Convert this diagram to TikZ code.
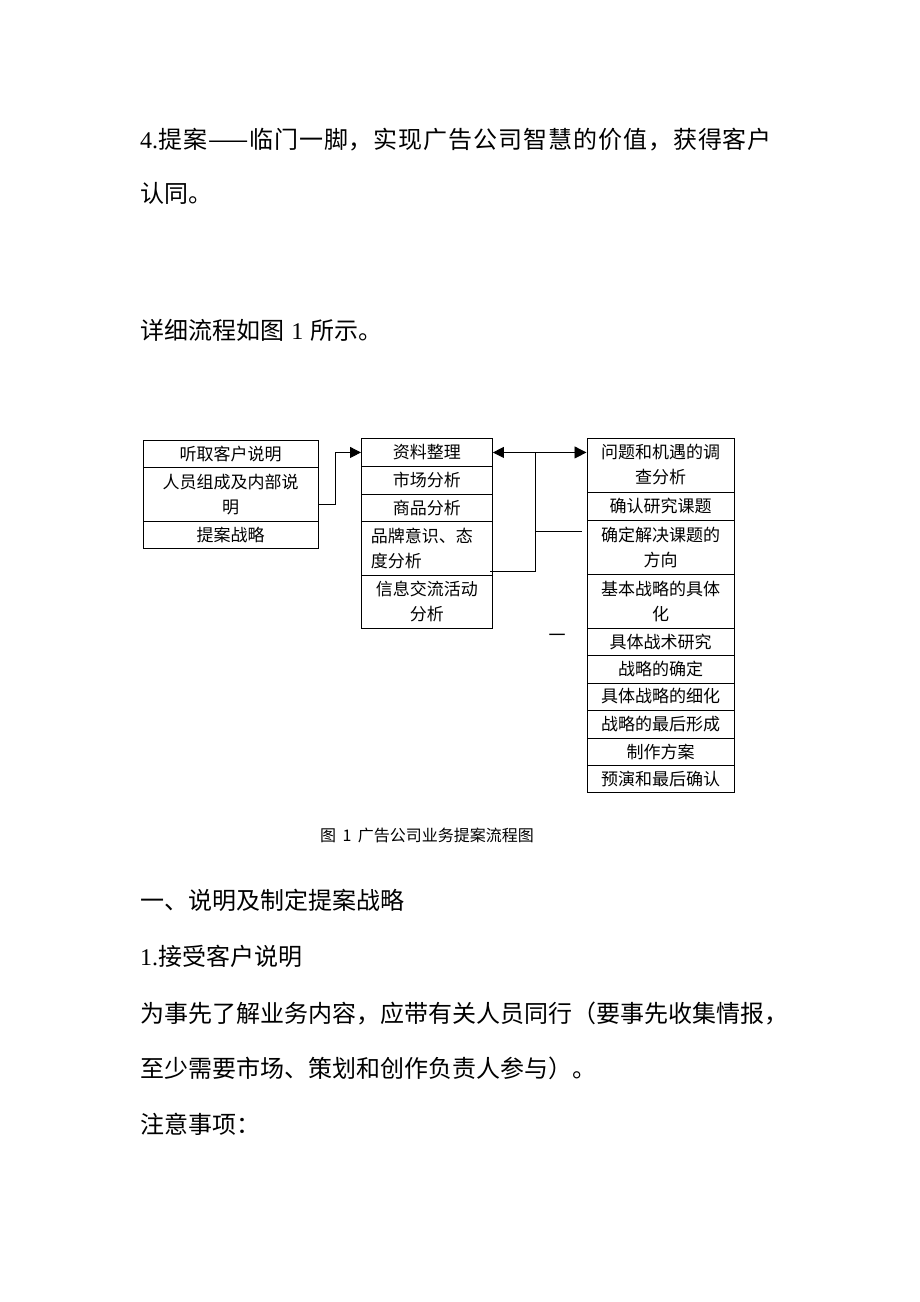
\documentclass[tikz,border=0pt]{standalone}
\usepackage{fontspec}
\setmainfont{Liberation Serif}
\newfontfamily\cjk{Noto Sans CJK SC}
\usetikzlibrary{arrows.meta}
\begin{document}
\begin{tikzpicture}[x=1pt,y=-1pt,
  cell/.style={draw,line width=0.9pt,anchor=north west,inner sep=0pt,
    font=\cjk\fontsize{17}{25}\selectfont,align=center},
  body/.style={anchor=west,inner sep=0pt,font=\cjk\fontsize{24}{24}\selectfont},
  conn/.style={line width=0.9pt},
  tip/.style={-{Triangle[length=11pt,width=11pt]}},
  dtip/.style={{Triangle[length=11pt,width=11pt]}-{Triangle[length=12pt,width=12pt]}}
]
\fill[white] (0,0) rectangle (920,1302);
\useasboundingbox (0,0) rectangle (920,1302);

% body text
\node[body] (t1) at (140,140) {\addfontfeatures{LetterSpace=3.9}{\rmfamily 4.}提案——临门一脚，实现广告公司智慧的价值，获得客户};
\node[body] (t2) at (140,193) {认同。};
\node[body] (t3) at (140,330) {详细流程如图\hspace{0.3em}{\rmfamily 1}\hspace{0.3em}所示。};
\node[body] (t4) at (140,900) {一、说明及制定提案战略};
\node[body] (t5) at (140,956) {{\rmfamily 1.}接受客户说明};
\node[body] (t6) at (140,1013) {为事先了解业务内容，应带有关人员同行（要事先收集情报，};
\node[body] (t7) at (140,1068) {至少需要市场、策划和创作负责人参与）。};
\node[body] (t8) at (140,1124) {注意事项：};

% left column
\node[cell,minimum width=175.5pt,minimum height=27.5pt] (L1) at (142.5,439.5) {听取客户说明};
\node[cell,minimum width=175.5pt,minimum height=53.5pt] (L2) at (142.5,467) {人员组成及内部说\\明};
\node[cell,minimum width=175.5pt,minimum height=27.5pt] (L3) at (142.5,520.5) {提案战略};

% middle column
\node[cell,minimum width=131pt,minimum height=28pt] (M1) at (361,438) {资料整理};
\node[cell,minimum width=131pt,minimum height=28pt] (M2) at (361,466) {市场分析};
\node[cell,minimum width=131pt,minimum height=27pt] (M3) at (361,494) {商品分析};
\node[cell,minimum width=131pt,minimum height=54pt,text width=112pt,align=left] (M4) at (361,521) {品牌意识、态\\度分析};
\node[cell,minimum width=131pt,minimum height=53pt] (M5) at (361,575) {信息交流活动\\分析};

% right column
\node[cell,minimum width=147.5pt,minimum height=54pt] (R1) at (586.5,437.5) {问题和机遇的调\\查分析};
\node[cell,minimum width=147.5pt,minimum height=28pt] (R2) at (586.5,491.5) {确认研究课题};
\node[cell,minimum width=147.5pt,minimum height=54.5pt] (R3) at (586.5,519.5) {确定解决课题的\\方向};
\node[cell,minimum width=147.5pt,minimum height=53.5pt] (R4) at (586.5,574) {基本战略的具体\\化};
\node[cell,minimum width=147.5pt,minimum height=27.5pt] (R5) at (586.5,627.5) {具体战术研究};
\node[cell,minimum width=147.5pt,minimum height=27.5pt] (R6) at (586.5,655) {战略的确定};
\node[cell,minimum width=147.5pt,minimum height=27pt] (R7) at (586.5,682.5) {具体战略的细化};
\node[cell,minimum width=147.5pt,minimum height=28pt] (R8) at (586.5,709.5) {战略的最后形成};
\node[cell,minimum width=147.5pt,minimum height=27.5pt] (R9) at (586.5,737.5) {制作方案};
\node[cell,minimum width=147.5pt,minimum height=27pt] (R10) at (586.5,765) {预演和最后确认};

\node[inner sep=0pt,font=\cjk\fontsize{17}{17}\selectfont] (dash) at (557,638) {一};

% connectors
\coordinate (a1) at (318,504);
\draw[conn,tip] (a1) -- ++(17,0) |- (M1.west);
\draw[conn,dtip] (M1.east) -- (M1.east -| R1.west);
\coordinate (j) at (535.7,452);
\coordinate (jb) at (535.7,571);
\coordinate (m4r) at (490,571);
\coordinate (r3l) at (582,531.5);
\draw[conn] (j) -- (jb) -- (m4r);
\draw[conn] (jb |- r3l) -- (r3l);

% caption
\node[inner sep=0pt,font=\cjk\fontsize{16}{16}\selectfont] (cap) at (427,835) {图\hspace{0.4em}1\hspace{0.4em}广告公司业务提案流程图};
\end{tikzpicture}
\end{document}
